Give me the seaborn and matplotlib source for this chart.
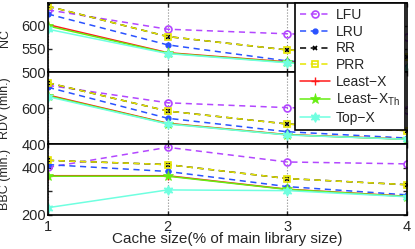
import pandas as pd
import matplotlib.pyplot as plt
import seaborn as sns

# Cache size (% of main library size)
cache_size = [1, 2, 3, 4]

# NC
nc_lfu = [635, 593, 583, 577]
nc_lru = [626, 559, 524, 510]
nc_rr = [643, 577, 548, 533]
nc_prr = [643, 577, 548, 533]
nc_least_x = [603, 542, 522, 507]
nc_least_x_th = [600, 541, 521, 507]
nc_top_x = [593, 540, 520, 506]

# RDV (min.)
rdv_lfu = [726, 629, 602, 589]
rdv_lru = [715, 543, 468, 433]
rdv_rr = [740, 583, 511, 474]
rdv_prr = [740, 583, 511, 474]
rdv_least_x = [672, 515, 452, 427]
rdv_least_x_th = [668, 513, 451, 426]
rdv_top_x = [663, 511, 450, 426]

# BBC (min.)
bbc_lfu = [401, 486, 424, 416]
bbc_lru = [413, 384, 320, 285]
bbc_rr = [431, 413, 354, 328]
bbc_prr = [431, 413, 354, 328]
bbc_least_x = [366, 366, 309, 279]
bbc_least_x_th = [364, 364, 308, 278]
bbc_top_x = [231, 306, 303, 277]

names = ['LFU', 'LRU', 'RR', 'PRR', 'Least\u2212X', 'Least\u2212X$_{\\mathrm{Th}}$', 'Top\u2212X']
colors = ['#b347ff', '#2a52ff', 'black', '#e5e500', '#ff1a1a', '#66ee11', '#6fffe0']
styles = [
    dict(marker='o', markerfacecolor='none', markersize=5, markeredgewidth=1.2),
    dict(marker='o', markersize=3.5, markeredgewidth=1),
    dict(marker='x', markersize=3, markeredgewidth=1.2),
    dict(marker='s', markerfacecolor='none', markersize=5, markeredgewidth=1.2),
    dict(marker='+', markersize=6, markeredgewidth=1),
    dict(marker='*', markersize=8, markeredgewidth=0.5),
    dict(marker=(6, 1, 0), markersize=7, markeredgewidth=0.8),
]
dashed = [True, True, True, True, False, False, False]

panels = [
    ('NC', [nc_lfu, nc_lru, nc_rr, nc_prr, nc_least_x, nc_least_x_th, nc_top_x],
     (500, 650), [500, 550, 600], ['500', '550', '600']),
    ('RDV (min.)', [rdv_lfu, rdv_lru, rdv_rr, rdv_prr, rdv_least_x, rdv_least_x_th, rdv_top_x],
     (400, 800), [400, 600], ['400', '600']),
    ('BBC (min.)', [bbc_lfu, bbc_lru, bbc_rr, bbc_prr, bbc_least_x, bbc_least_x_th, bbc_top_x],
     (200, 500), [200, 300, 400], ['200', '', '400']),
]

sns.set_style('white')
plt.rcParams['font.family'] = ['Liberation Sans', 'DejaVu Sans']
plt.rcParams['mathtext.fontset'] = 'custom'
plt.rcParams['mathtext.rm'] = 'Liberation Sans'

fig = plt.figure(figsize=(4.15, 2.49), dpi=100)
W, H = 415, 249
left, right = 48 / W, 407 / W
bounds = [(3, 72), (72, 144), (144, 215)]

axes = []
for (top, bot), (ylabel, series, ylim, yticks, ylabels) in zip(bounds, panels):
    ax = fig.add_axes([left, 1 - bot / H, right - left, (bot - top) / H])
    for name, vals, col, st, dsh in zip(names, series, colors, styles, dashed):
        df = pd.DataFrame({'x': cache_size, 'y': vals})
        sns.lineplot(data=df, x='x', y='y', ax=ax, label=name, lw=1.1,
                     color=col, markeredgecolor=col, legend=False, **st)
        if dsh:
            ax.lines[-1].set_dashes((4, 3))
    ax.set_xlim(1, 4)
    ax.set_ylim(*ylim)
    ax.set_yticks(yticks)
    ax.set_yticklabels(ylabels)
    ax.set_xticks(cache_size)
    ax.set_ylabel(ylabel, fontsize=9)
    ax.set_xlabel('')
    ax.grid(axis='x', ls=':', color='#888888', lw=0.8)
    ax.tick_params(direction='in', length=3, width=1, labelsize=10.5, pad=1.5,
                   top=True, right=True, left=True, bottom=True)
    ax.tick_params(axis='x', pad=3.5)
    for sp in ax.spines.values():
        sp.set_color('black')
        sp.set_linewidth(1.2)
    ax.yaxis.set_label_coords(-0.104, 0.5)
    axes.append(ax)

for ax in axes[:-1]:
    ax.set_xticklabels([])
axes[-1].set_xticklabels(['1', '2', '3', '4'])
axes[-1].set_xlabel('Cache size(% of main library size)', fontsize=11, labelpad=-1)

handles, labels = axes[0].get_legend_handles_labels()
leg = fig.legend(handles, labels, loc='upper right',
                 bbox_to_anchor=(405 / W, 1 - 3 / H), borderaxespad=0,
                 fontsize=10, frameon=True, fancybox=False, edgecolor='black',
                 framealpha=1, handlelength=2.2, labelspacing=0.2,
                 borderpad=0.35, handletextpad=0.4)
leg.get_frame().set_linewidth(1.2)
leg.set_zorder(10)

plt.savefig('out.png', dpi=100)
